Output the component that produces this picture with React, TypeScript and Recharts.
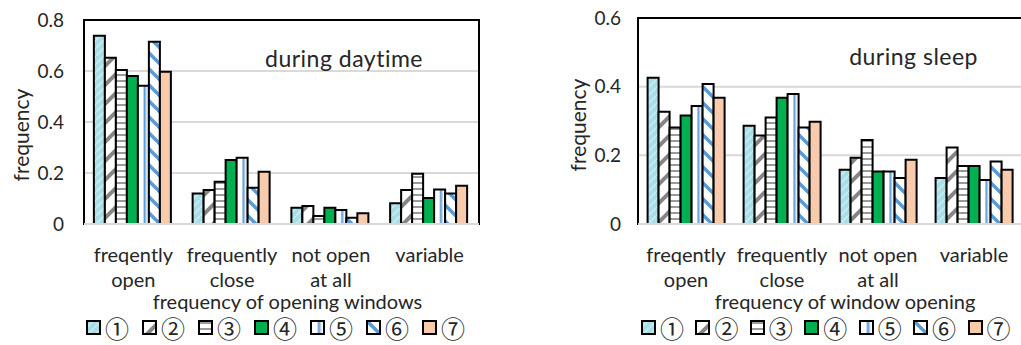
import { Bar, BarChart, CartesianGrid, Legend, ReferenceArea, ReferenceLine, XAxis, YAxis } from 'recharts'

const FONT = "Lato, 'Noto Sans', sans-serif"
const CJK = "'Noto Sans CJK JP', 'DejaVu Sans', sans-serif"
const INK = '#262626'

const categories = ['freqently\nopen', 'frequently\nclose', 'not open\nat all', 'variable']
const seriesLabels = ['①', '②', '③', '④', '⑤', '⑥', '⑦']
const seriesFills = ['url(#p1)', 'url(#p2)', 'url(#p3)', '#00b050', 'url(#g5)', 'url(#p6)', '#f8cbad']

// during daytime, one array per category, one value per group ①..⑦
const dayOpen = [0.738, 0.652, 0.604, 0.58, 0.542, 0.715, 0.597]
const dayClose = [0.12, 0.133, 0.166, 0.251, 0.26, 0.142, 0.205]
const dayNever = [0.064, 0.071, 0.031, 0.064, 0.055, 0.025, 0.042]
const dayVariable = [0.081, 0.133, 0.197, 0.102, 0.135, 0.12, 0.15]

// during sleep
const sleepOpen = [0.426, 0.327, 0.281, 0.316, 0.344, 0.408, 0.368]
const sleepClose = [0.286, 0.258, 0.31, 0.368, 0.379, 0.281, 0.298]
const sleepNever = [0.158, 0.193, 0.245, 0.153, 0.153, 0.134, 0.187]
const sleepVariable = [0.134, 0.223, 0.169, 0.169, 0.128, 0.182, 0.158]

const dayTicks = [0, 0.2, 0.4, 0.6, 0.8]
const sleepTicks = [0, 0.2, 0.4, 0.6]

function toRows(groups: number[][]) {
  return categories.map((name, i) => {
    const row: Record<string, string | number> = { name }
    groups[i].forEach((v, k) => (row[`s${k + 1}`] = v))
    return row
  })
}

function CategoryTick({ x, y, payload }: any) {
  const lines = String(payload.value).split('\n')
  return (
    <text x={x} y={y} textAnchor="middle" fontSize={20} fill={INK} fontFamily={FONT}>
      {lines.map((l, i) => (
        <tspan key={i} x={x} dy={i === 0 ? 30 : 25}>
          {l}
        </tspan>
      ))}
    </text>
  )
}

function Patterns() {
  return (
    <svg width={0} height={0} style={{ position: 'absolute' }}>
      <defs>
        <pattern id="p1" width={8} height={8} patternUnits="userSpaceOnUse">
          <rect width={8} height={8} fill="#a9dee7" />
          <path d="M0 8 L8 0" stroke="#c4ebf1" strokeWidth={2} />
        </pattern>
        <pattern id="p2" width={19} height={19} patternUnits="userSpaceOnUse">
          <rect width={19} height={19} fill="#fff" />
          <path d="M-2 21 L21 -2 M-2 2 L2 -2 M17 21 L21 17" stroke="#858585" strokeWidth={4} />
        </pattern>
        <pattern id="p3" width={6} height={6} patternUnits="userSpaceOnUse">
          <rect width={6} height={6} fill="#fff" />
          <rect y={2} width={6} height={2} fill="#9a9a9a" />
        </pattern>
        <linearGradient id="g5" x1={0} x2={1} y1={0} y2={0}>
          <stop offset="0" stopColor="#fff" />
          <stop offset="0.45" stopColor="#fff" />
          <stop offset="0.6" stopColor="#5b9bd5" />
          <stop offset="0.72" stopColor="#a9c9ea" />
          <stop offset="0.85" stopColor="#fff" />
          <stop offset="1" stopColor="#fff" />
        </linearGradient>
        <pattern id="p6" width={16} height={16} patternUnits="userSpaceOnUse">
          <rect width={16} height={16} fill="#fff" />
          <path d="M-2 -2 L18 18 M14 -2 L18 2 M-2 14 L2 18" stroke="#5b9bd5" strokeWidth={3.5} />
        </pattern>
      </defs>
    </svg>
  )
}

type PanelProps = {
  rows: Record<string, string | number>[]
  ticks: number[]
  title: string
  axisTitle: string
  width: number
  yAxisWidth: number
  top: number
  right: number
  tickMargin: number
  yLabelX: number
  yLabelDy: number
  titleRight: number
  titleBaseline: number
  axisTitleDx: number
  legendLeft: number
  legendPitch: number
}

function Panel(p: PanelProps) {
  const max = p.ticks[p.ticks.length - 1]
  return (
    <BarChart
      width={p.width}
      height={345}
      data={p.rows}
      margin={{ top: p.top, right: p.right, left: 0, bottom: 3 }}
      barGap={0}
      barCategoryGap="10%"
    >
      <CartesianGrid vertical={false} stroke="#d9d9d9" strokeWidth={2} />
      <ReferenceArea
        y1={0}
        y2={max}
        fill="none"
        stroke="#000"
        strokeWidth={2}
        label={({ viewBox }: any) => (
          <text
            x={viewBox.x + viewBox.width - p.titleRight}
            y={viewBox.y + p.titleBaseline}
            textAnchor="end"
            fontSize={23}
            letterSpacing={0.5}
            fill={INK}
            fontFamily={FONT}
          >
            {p.title}
          </text>
        )}
      />
      <XAxis
        dataKey="name"
        tick={<CategoryTick />}
        tickLine={false}
        axisLine={false}
        interval={0}
        height={86}
        label={({ viewBox }: any) => (
          <text
            x={viewBox.x + viewBox.width / 2 + p.axisTitleDx}
            y={viewBox.y + 85}
            textAnchor="middle"
            fontSize={20}
            fill={INK}
            fontFamily={FONT}
          >
            {p.axisTitle}
          </text>
        )}
      />
      <YAxis
        domain={[0, max]}
        ticks={p.ticks}
        width={p.yAxisWidth}
        axisLine={false}
        tickLine={false}
        tickMargin={p.tickMargin}
        tick={{ fontSize: 19, fill: INK, fontFamily: FONT }}
        label={({ viewBox }: any) => {
          const cx = viewBox.x + p.yLabelX
          const cy = viewBox.y + viewBox.height / 2 + p.yLabelDy
          return (
            <text
              x={cx}
              y={cy}
              transform={`rotate(-90 ${cx} ${cy})`}
              textAnchor="middle"
              dominantBaseline="central"
              fontSize={21}
              fill={INK}
              fontFamily={FONT}
            >
              frequency
            </text>
          )
        }}
      />
      {seriesLabels.map((label, i) => (
        <Bar
          key={label}
          dataKey={`s${i + 1}`}
          name={label}
          fill={seriesFills[i]}
          stroke="#000"
          strokeWidth={2}
          isAnimationActive={false}
        />
      ))}
      <ReferenceLine y={0} stroke="#d9d9d9" strokeWidth={2} />
      <Legend
        verticalAlign="bottom"
        content={({ payload }: any) => (
          <div style={{ height: 32, boxSizing: 'border-box', display: 'flex', paddingLeft: p.legendLeft, paddingTop: 5 }}>
            {(payload || []).map((e: any) => (
              <div key={e.value} style={{ width: p.legendPitch, display: 'flex', alignItems: 'center', height: 25 }}>
                <svg width={15} height={15} style={{ marginTop: -1 }}>
                  <rect x={1} y={1} width={13} height={13} fill={e.color} stroke="#000" strokeWidth={2} />
                </svg>
                <span style={{ fontFamily: CJK, fontSize: 24, lineHeight: '25px', color: INK, marginLeft: 4 }}>
                  {e.value}
                </span>
              </div>
            ))}
          </div>
        )}
      />
    </BarChart>
  )
}

export default function App() {
  return (
    <div style={{ position: 'absolute', left: 0, top: 0, width: 1021, height: 345, overflow: 'hidden', background: '#fff' }}>
      <Patterns />
      <div style={{ position: 'absolute', left: 0, top: 0 }}>
        <Panel
          rows={toRows([dayOpen, dayClose, dayNever, dayVariable])}
          ticks={dayTicks}
          title="during daytime"
          axisTitle="frequency of opening windows"
          width={500}
          yAxisWidth={84}
          top={20}
          right={21}
          tickMargin={14}
          yLabelX={20}
          yLabelDy={13}
          titleRight={56}
          titleBaseline={47}
          axisTitleDx={6}
          legendLeft={86}
          legendPitch={56}
        />
      </div>
      <div style={{ position: 'absolute', left: 520, top: 0 }}>
        <Panel
          rows={toRows([sleepOpen, sleepClose, sleepNever, sleepVariable])}
          ticks={sleepTicks}
          title="during sleep"
          axisTitle="frequency of window opening"
          width={512}
          yAxisWidth={118}
          top={18}
          right={10}
          tickMargin={11}
          yLabelX={57}
          yLabelDy={4}
          titleRight={44}
          titleBaseline={47}
          axisTitleDx={15}
          legendLeft={121}
          legendPitch={58}
        />
      </div>
    </div>
  )
}
